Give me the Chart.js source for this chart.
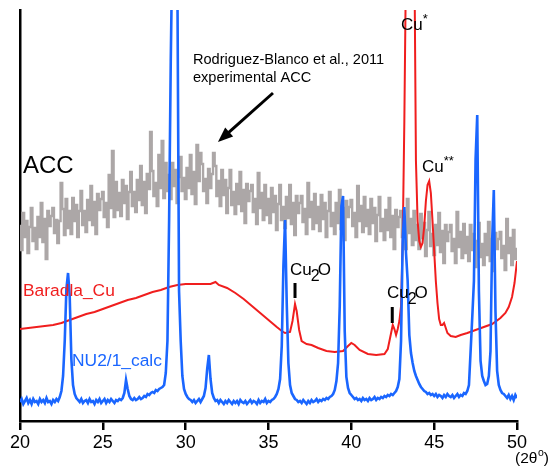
<!DOCTYPE html>
<html>
<head>
<meta charset="utf-8">
<script src="https://cdn.jsdelivr.net/npm/chart.js@4.4.1/dist/chart.umd.min.js"></script>
<style>
  html, body { margin: 0; padding: 0; background: #fff; }
</style>
</head>
<body>
<canvas id="xrdChart" width="551" height="466"></canvas>
<script>
// x axis tick labels (2-theta, degrees)
const xTicks = [20, 25, 30, 35, 40, 45, 50];

// shared 2-theta grid for the ACC and NU2/1 patterns, 0.1 deg steps
const twoTheta = [];
for (let i = 0; i <= 300; i++) twoTheta.push(+(20 + i * 0.1).toFixed(1));

// Rodriguez-Blanco et al., 2011 experimental ACC (grey, noisy)
const accExp = [
  195, 171, 208, 184, 200, 168, 194, 213, 180, 193,
  172, 204, 184, 218, 179, 202, 162, 210, 195, 205,
  213, 188, 201, 178, 200, 238, 212, 186, 222, 193,
  210, 187, 223, 200, 216, 184, 210, 230, 196, 210,
  189, 221, 201, 235, 196, 219, 187, 227, 211, 222,
  229, 204, 218, 194, 246, 213, 270, 204, 239, 211,
  228, 205, 241, 218, 235, 202, 229, 249, 215, 229,
  209, 241, 221, 255, 216, 239, 208, 247, 232, 289,
  250, 225, 238, 215, 266, 233, 280, 223, 258, 230,
  246, 222, 258, 235, 251, 218, 244, 264, 230, 243,
  222, 253, 233, 266, 227, 249, 217, 276, 240, 268,
  257, 230, 242, 218, 252, 233, 247, 268, 255, 225,
  240, 215, 251, 226, 241, 208, 233, 251, 216, 229,
  207, 237, 217, 249, 210, 231, 198, 237, 220, 230,
  236, 209, 222, 197, 248, 213, 228, 201, 236, 206,
  222, 198, 233, 209, 225, 191, 217, 236, 201, 214,
  193, 224, 203, 236, 197, 218, 186, 225, 208, 218,
  225, 199, 212, 187, 238, 204, 219, 192, 227, 198,
  214, 190, 226, 202, 218, 184, 210, 229, 195, 208,
  187, 218, 198, 231, 192, 213, 181, 220, 204, 214,
  221, 195, 208, 184, 235, 200, 215, 189, 224, 195,
  211, 187, 222, 198, 213, 180, 206, 224, 190, 202,
  181, 211, 191, 223, 184, 205, 172, 211, 194, 204,
  210, 184, 196, 172, 222, 188, 202, 176, 210, 181,
  196, 172, 207, 183, 198, 165, 191, 209, 175, 187,
  166, 196, 176, 208, 169, 190, 158, 196, 180, 189,
  196, 170, 182, 158, 209, 174, 189, 163, 197, 168,
  184, 160, 196, 171, 187, 154, 180, 198, 164, 177,
  156, 187, 166, 199, 160, 182, 150, 188, 172, 182,
  189, 163, 175, 151, 202, 168, 183, 156, 191, 162,
  172
];

// NU2/1_calc (blue)
const nuCalc = [
  19, 22, 17, 20, 23, 18, 21, 17, 22, 19,
  20, 17, 22, 19, 21, 18, 23, 19, 20, 17,
  21, 19, 22, 20, 24, 30, 45, 80, 132, 148,
  125, 62, 36, 27, 23, 21, 19, 22, 18, 20,
  21, 18, 22, 19, 20, 17, 21, 19, 22, 18,
  20, 22, 18, 21, 19, 22, 20, 18, 21, 20,
  22, 21, 23, 28, 41, 32, 25, 22, 21, 23,
  21, 22, 24, 22, 23, 25, 24, 27, 26, 28,
  29, 28, 31, 30, 32, 33, 34, 36, 48, 80,
  200, 360, 480, 560, 520, 440, 130, 80, 45, 32,
  27, 24, 22, 21, 19, 21, 18, 20, 22, 19,
  22, 25, 33, 52, 66, 42, 28, 23, 20, 21,
  18, 21, 19, 17, 20, 18, 21, 19, 17, 20,
  18, 20, 17, 21, 19, 18, 20, 17, 19, 21,
  18, 20, 19, 17, 21, 18, 20, 19, 22, 18,
  20, 19, 21, 22, 24, 27, 32, 42, 75, 155,
  201, 118, 58, 36, 28, 25, 22, 21, 19, 20,
  18, 21, 19, 17, 20, 18, 21, 19, 20, 22,
  19, 21, 20, 22, 21, 23, 22, 24, 25, 27,
  31, 40, 58, 115, 215, 225, 90, 44, 33, 28,
  26, 24, 22, 23, 21, 22, 20, 23, 21, 22,
  20, 23, 21, 22, 24, 21, 23, 22, 24, 23,
  25, 24, 26, 25, 27, 26, 28, 30, 34, 42,
  80, 180, 214, 168, 140, 86, 68, 58, 50, 45,
  41, 37, 34, 32, 30, 29, 27, 28, 26, 27,
  25, 27, 24, 26, 25, 23, 26, 24, 27, 25,
  24, 26, 23, 25, 27, 24, 26, 25, 28, 27,
  30, 36, 70, 104, 140, 262, 306, 130, 60, 45,
  40, 36, 37, 45, 70, 180, 231, 110, 50, 36,
  31, 28, 27, 25, 23, 26, 22, 25, 21, 26,
  23
];

// Baradla_Cu (red), own sampling
const baradlaTheta = [
  20.0, 20.5, 21.0, 21.5, 22.0, 22.5, 23.0, 23.5, 24.0, 24.5,
  25.0, 25.5, 26.0, 26.5, 27.0, 27.5, 28.0, 28.5, 29.0, 29.5,
  30.0, 30.5, 31.0, 31.5, 31.8, 32.0, 32.5, 33.0, 33.5, 34.0,
  34.5, 35.0, 35.5, 35.8, 36.0, 36.3, 36.45, 36.6, 36.7, 36.85,
  37.0, 37.3, 37.6, 38.0, 38.5, 39.0, 39.5, 39.8, 40.0, 40.2,
  40.5, 41.0, 41.5, 42.0, 42.2, 42.4, 42.5, 42.6, 42.7, 42.8,
  42.9, 43.0, 43.1, 43.2, 43.3, 43.5, 43.7, 43.8, 43.9, 44.0,
  44.1, 44.2, 44.3, 44.4, 44.5, 44.6, 44.7, 44.8, 44.9, 45.0,
  45.1, 45.2, 45.3, 45.4, 45.5, 45.6, 45.7, 45.8, 46.0, 46.3,
  46.6, 47.0, 47.5, 48.0, 48.5, 49.0, 49.3, 49.5, 49.7, 49.85,
  50.0
];
const baradlaI = [
  92, 93, 94, 95, 96, 98, 101, 104, 107, 109,
  112, 115, 118, 121, 123, 126, 129, 131, 134, 136,
  137, 137, 137, 137, 139, 136, 133, 128, 122, 115,
  108, 101, 94, 90, 88, 89, 100, 117, 110, 91,
  80, 77, 76, 73, 70, 69, 70, 75, 78, 76,
  71, 67, 66, 67, 72, 88, 96, 92, 86, 92,
  100, 115, 180, 300, 460, 700, 650, 480, 260, 200,
  180, 174, 178, 195, 220, 236, 240, 228, 200, 170,
  140, 118, 102, 96, 96, 98, 93, 88, 85, 84,
  86, 88, 91, 94, 97, 103, 108, 114, 124, 138,
  160
];

const FONT = "'Liberation Sans', Arial, sans-serif";

// text labels and the arrow, placed in data units
const annotations = {
  id: "annotations",
  afterDatasetsDraw(chart) {
    const c = chart.ctx;
    const xs = chart.scales.x;
    const ys = chart.scales.y;
    const X = (v) => xs.getPixelForValue(v);
    const Y = (v) => ys.getPixelForValue(v);
    c.save();
    c.textBaseline = "middle";
    c.textAlign = "left";

    const text = (s, x, y, size, color) => {
      c.font = size + "px " + FONT;
      c.fillStyle = color || "#000";
      c.fillText(s, x, y);
      return c.measureText(s).width;
    };

    text("Rodriguez-Blanco et al., 2011", X(30.44), Y(361), 14.6);
    text("experimental ACC", X(30.44), Y(343), 14.6);

    // arrow
    const x1 = X(35.27), y1 = Y(328), x2 = X(31.95), y2 = Y(279);
    const ang = Math.atan2(y2 - y1, x2 - x1);
    c.strokeStyle = "#000";
    c.lineWidth = 3;
    c.beginPath();
    c.moveTo(x1, y1);
    c.lineTo(x2 - 10 * Math.cos(ang), y2 - 10 * Math.sin(ang));
    c.stroke();
    c.beginPath();
    c.moveTo(x2, y2);
    c.lineTo(x2 - 15 * Math.cos(ang) + 6 * Math.sin(ang), y2 - 15 * Math.sin(ang) - 6 * Math.cos(ang));
    c.lineTo(x2 - 15 * Math.cos(ang) - 6 * Math.sin(ang), y2 - 15 * Math.sin(ang) + 6 * Math.cos(ang));
    c.closePath();
    c.fillStyle = "#000";
    c.fill();

    text("ACC", X(20.18), Y(255), 24);
    text("Baradla_Cu", X(20.18), Y(130), 17.4, "#f01e1e");
    text("NU2/1_calc", X(23.14), Y(60), 17.4, "#1a66ff");

    // Cu* and Cu**
    let w = text("Cu", X(43.0), Y(396), 17);
    text("*", X(43.0) + w, Y(396) - 6, 13);
    w = text("Cu", X(44.27), Y(254), 17);
    text("**", X(44.27) + w, Y(254) - 6, 13);

    // Cu2O markers
    const cu2o = (xt, yt, xb, yb0, yb1) => {
      let x = X(xt);
      x += text("Cu", x, Y(yt), 17);
      x += text("2", x - 1, Y(yt) + 7, 16) - 3;
      text("O", x, Y(yt), 17);
      c.fillStyle = "#000";
      c.fillRect(X(xb) - 1.5, Y(yb0), 3, Y(yb1) - Y(yb0));
    };
    cu2o(36.3, 151, 36.6, 138, 123);
    cu2o(42.15, 128, 42.47, 114, 98);

    // axis unit
    const ax = chart.chartArea;
    let ux = ax.right - 2;
    const uy = ax.bottom + 38;
    ux += text("(2\u03b8", ux, uy, 15.5);
    ux += text("o", ux + 0.5, uy - 6, 10.5) + 0.5;
    text(")", ux, uy, 15.5);
    c.restore();
  }
};

const ctx = document.getElementById("xrdChart").getContext("2d");
const xrdChart = new Chart(ctx, {
  type: "line",
  data: {
    datasets: [
      {
        label: "NU2/1_calc",
        data: twoTheta.map((t, i) => ({ x: t, y: nuCalc[i] })),
        borderColor: "#1a66ff",
        borderWidth: 2.6,
        pointRadius: 0,
      },
      {
        label: "Baradla_Cu",
        data: baradlaTheta.map((t, i) => ({ x: t, y: baradlaI[i] })),
        borderColor: "#f01e1e",
        borderWidth: 2,
        pointRadius: 0,
      },
      {
        label: "ACC (Rodriguez-Blanco et al., 2011)",
        data: twoTheta.map((t, i) => ({ x: t, y: accExp[i] })),
        borderColor: "#aca7a7",
        borderWidth: 2.4,
        pointRadius: 0,
        stepped: "middle",
      },
    ],
  },
  options: {
    responsive: false,
    animation: false,
    layout: { padding: { top: 10, right: 34, left: 0, bottom: 0 } },
    plugins: {
      legend: { display: false },
      tooltip: { enabled: false },
    },
    scales: {
      x: {
        type: "linear",
        min: 20,
        max: 50,
        afterFit: (s) => { s.height = 45; },
        afterBuildTicks: (s) => { s.ticks = xTicks.map((v) => ({ value: v })); },
        ticks: { color: "#000", font: { family: FONT, size: 18 }, padding: 2, maxRotation: 0 },
        grid: { drawOnChartArea: false, drawTicks: true, tickLength: 9, color: "#000", lineWidth: 2.5 },
        border: { display: true, color: "#000", width: 2.5 },
      },
      y: {
        min: 0,
        max: 411,
        afterFit: (s) => { s.width = 20; },
        ticks: { display: false },
        grid: { display: false },
        border: { display: true, color: "#000", width: 2.5 },
      },
    },
  },
  plugins: [annotations],
});
</script>
</body>
</html>
